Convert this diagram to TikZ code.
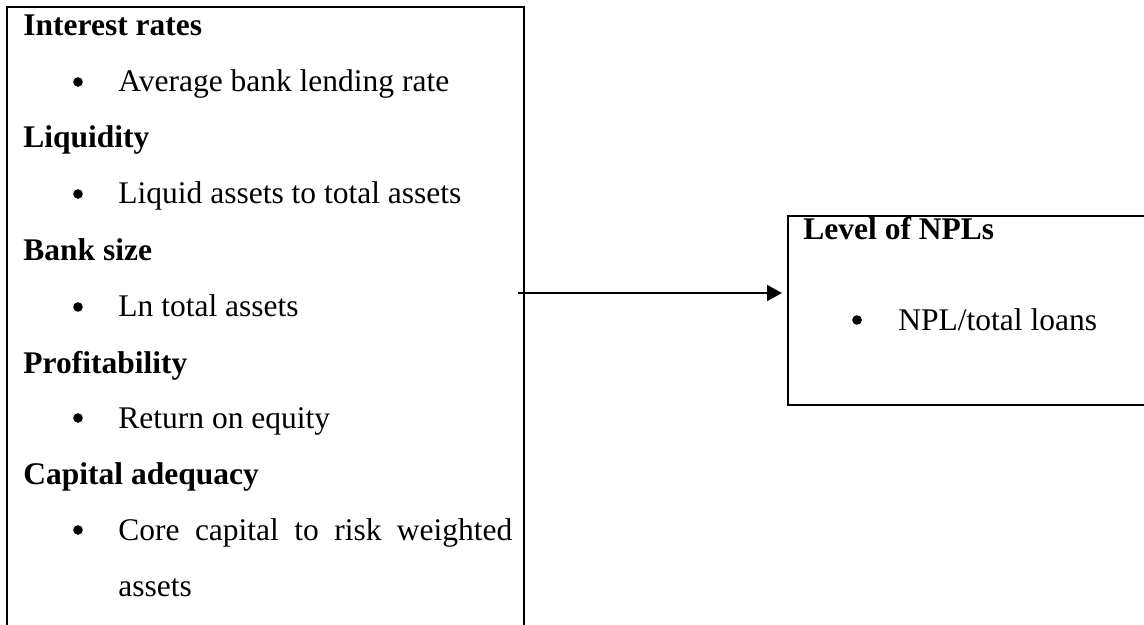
\documentclass[tikz,border=0pt]{standalone}
\usepackage{fontspec}
\setmainfont{Liberation Serif}
\usetikzlibrary{arrows.meta}
\begin{document}
\begin{tikzpicture}[x=0.5pt,y=-0.5pt,
  frame/.style={draw,line width=1.2pt,inner sep=0pt,outer sep=0pt,rectangle},
  txt/.style={anchor=base west,inner sep=0pt,font=\fontsize{15.75pt}{28pt}\selectfont},
  head/.style={anchor=base west,inner sep=0pt,font=\fontsize{15.75pt}{28pt}\selectfont\bfseries},
  dot/.style={circle,fill=black,draw=none,inner sep=0pt,minimum size=4.8pt},
  arr/.style={-{Triangle[length=7.5pt,width=8pt]},line width=0.8pt}]
\clip (0,0) rectangle (1144,625);
\fill[white] (0,0) rectangle (1144,625);
% boxes
\node[frame,anchor=north west,minimum width=258.5pt,minimum height=400pt] (lbox) at (7,7) {};
\node[frame,anchor=north west,minimum width=220pt,minimum height=94.5pt] (rbox) at (788,216) {};
% left box content
\node[head] (h1) at (23,36) {Interest rates};
\node[dot] (b1) at (78,82) {};
\node[txt] (t1) at (118,92) {Average bank lending rate};
\node[head] (h2) at (23,148) {Liquidity};
\node[dot] (b2) at (78,194) {};
\node[txt] (t2) at (118,204) {Liquid assets to total assets};
\node[head] (h3) at (23,261) {Bank size};
\node[dot] (b3) at (78,307) {};
\node[txt] (t3) at (118,317) {Ln total assets};
\node[head] (h4) at (23,373) {Profitability};
\node[dot] (b4) at (78,418) {};
\node[txt] (t4) at (118,428) {Return on equity};
\node[head] (h5) at (23,484) {Capital adequacy};
\node[dot] (b5) at (78,530) {};
\node[txt] (t5) at (118,540) {\makebox[197pt][s]{Core capital to risk weighted}};
\node[txt] (t6) at (118,596) {assets};
% right box content
\node[head] (h6) at (803,240) {Level of NPLs};
\node[dot] (b6) at (857,320) {};
\node[txt] (t7) at (898,330) {NPL/total loans};
% arrow
\coordinate (as) at (518,293);
\coordinate (ae) at (782,293);
\draw[arr] (as) -- (ae);
\end{tikzpicture}
\end{document}
